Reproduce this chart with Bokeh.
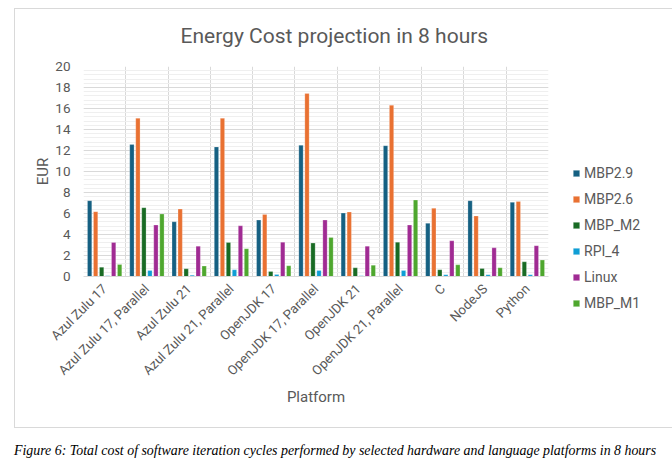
import numpy as np
from bokeh.plotting import figure
from bokeh.layouts import column
from bokeh.models import (FixedTicker, Legend, LegendItem, Title, Div, Range1d,
                          InlineStyleSheet)
from bokeh.embed import file_html
from bokeh.resources import INLINE

platforms = ["Azul Zulu 17", "Azul Zulu 17, Parallel", "Azul Zulu 21",
             "Azul Zulu 21, Parallel", "OpenJDK 17", "OpenJDK 17, Parallel",
             "OpenJDK 21", "OpenJDK 21, Parallel", "C", "NodeJS", "Python"]
series = ["MBP2.9", "MBP2.6", "MBP_M2", "RPI_4", "Linux", "MBP_M1"]
mbp29 = [7.22, 12.56, 5.21, 12.34, 5.37, 12.50, 6.04, 12.46, 5.06, 7.22, 7.06]
mbp26 = [6.17, 15.07, 6.42, 15.07, 5.91, 17.42, 6.14, 16.31, 6.49, 5.76, 7.15]
mbp_m2 = [0.89, 6.55, 0.73, 3.24, 0.48, 3.18, 0.83, 3.27, 0.64, 0.76, 1.40]
rpi4 = [0.06, 0.57, 0.13, 0.64, 0.19, 0.57, 0.06, 0.57, 0.16, 0.16, 0.16]
linux = [3.24, 4.90, 2.89, 4.83, 3.27, 5.37, 2.89, 4.90, 3.40, 2.73, 2.93]
mbp_m1 = [1.14, 5.95, 0.99, 2.64, 1.02, 3.72, 1.08, 7.28, 1.11, 0.83, 1.56]
values = [mbp29, mbp26, mbp_m2, rpi4, linux, mbp_m1]
colors = ["#156082", "#E97132", "#196B24", "#0F9ED5", "#A02B93", "#4EA72E"]
y_ticks = list(range(0, 21, 2))
title_text = "Energy Cost projection in 8 hours"
caption_text = ("Figure 6: Total cost of software iteration cycles performed by "
                "selected hardware and language platforms in 8 hours")

FONT = "Roboto"
TXT = "#595959"

# figure element spans page x 8..663, y 2..434; its frame line is drawn 6px inside
p = figure(frame_width=465, frame_height=210, output_backend="svg",
           toolbar_location=None,
           x_range=Range1d(0, len(platforms)), y_range=Range1d(0, 20),
           min_border_left=75, min_border_right=115, min_border_top=64,
           min_border_bottom=158)
p.outline_line_color = None
p.background_fill_color = "white"
p.border_fill_color = "white"
p.margin = (2, 0, 0, 8)
p.stylesheets = [InlineStyleSheet(css="""
:host::after {
  content: "";
  position: absolute;
  left: 6px; top: 6px; right: 6px; bottom: 6px;
  border: 1px solid #d9d9d9;
  pointer-events: none;
  z-index: 1000;
}
""")]

step = 0.142
renderers = []
for j, (name, vals, col) in enumerate(zip(series, values, colors)):
    xs = [i + 0.5 + (j - 2.5) * step for i in range(len(platforms))]
    r = p.vbar(x=xs, top=vals, width=0.102, bottom=0, fill_color=col,
               line_color="white", line_width=0.4, line_alpha=0.6)
    renderers.append(r)

# axes
p.yaxis.ticker = FixedTicker(ticks=y_ticks,
                             minor_ticks=list(np.round(np.arange(0, 20.01, 0.4), 2)))
p.yaxis.axis_line_color = None
p.yaxis.major_tick_line_color = None
p.yaxis.minor_tick_line_color = None
p.yaxis.major_tick_out = 0
p.yaxis.minor_tick_out = 0
p.yaxis.major_label_text_font = FONT
p.yaxis.major_label_text_font_size = "13.5px"
p.yaxis.major_label_text_color = TXT
p.yaxis.major_label_standoff = 13
p.yaxis.axis_label = "EUR"
p.yaxis.axis_label_text_font = FONT
p.yaxis.axis_label_text_font_style = "normal"
p.yaxis.axis_label_text_font_size = "15px"
p.yaxis.axis_label_text_color = TXT
p.yaxis.axis_label_standoff = 0

centers = [i + 0.5 for i in range(len(platforms))]
p.xaxis.ticker = FixedTicker(ticks=centers)
p.xaxis.major_label_overrides = {c: lab for c, lab in zip(centers, platforms)}
p.xaxis.major_label_orientation = np.pi / 4
p.xaxis.major_label_text_font = FONT
p.xaxis.major_label_text_font_size = "13.2px"
p.xaxis.major_label_text_color = TXT
p.xaxis.axis_line_color = "#d9d9d9"
p.xaxis.major_tick_line_color = None
p.xaxis.minor_tick_line_color = None
p.xaxis.major_tick_out = 0
p.xaxis.minor_tick_out = 0
p.xaxis.major_label_standoff = 10
p.xaxis.axis_label = "Platform"
p.xaxis.axis_label_text_font = FONT
p.xaxis.axis_label_text_font_style = "normal"
p.xaxis.axis_label_text_font_size = "15px"
p.xaxis.axis_label_text_color = TXT
p.xaxis.axis_label_standoff = 1

p.ygrid.grid_line_color = "#d9d9d9"
p.ygrid.minor_grid_line_color = "#efefef"
p.xgrid.ticker = FixedTicker(ticks=list(range(len(platforms) + 1)))
p.xgrid.grid_line_color = "#d9d9d9"

legend = Legend(items=[LegendItem(label=s, renderers=[r]) for s, r in zip(series, renderers)],
                location=(24, -36), padding=0, margin=0, spacing=8,
                glyph_width=8, glyph_height=8, label_height=18, label_standoff=4,
                border_line_color=None, background_fill_alpha=0,
                label_text_font=FONT, label_text_font_size="14px",
                label_text_color=TXT)
p.add_layout(legend, "right")

p.add_layout(Title(text=title_text, align="left", offset=97, standoff=37,
                   text_font=FONT, text_font_size="21px", text_font_style="normal",
                   text_color=TXT), "above")

cap = Div(text=caption_text, margin=(7, 0, 0, 14),
          styles={"font-family": "Liberation Serif", "font-style": "italic",
                  "font-size": "13.9px", "color": "black", "white-space": "nowrap"})

layout = column(p, cap)
open("out.html", "w").write(file_html(layout, INLINE))
